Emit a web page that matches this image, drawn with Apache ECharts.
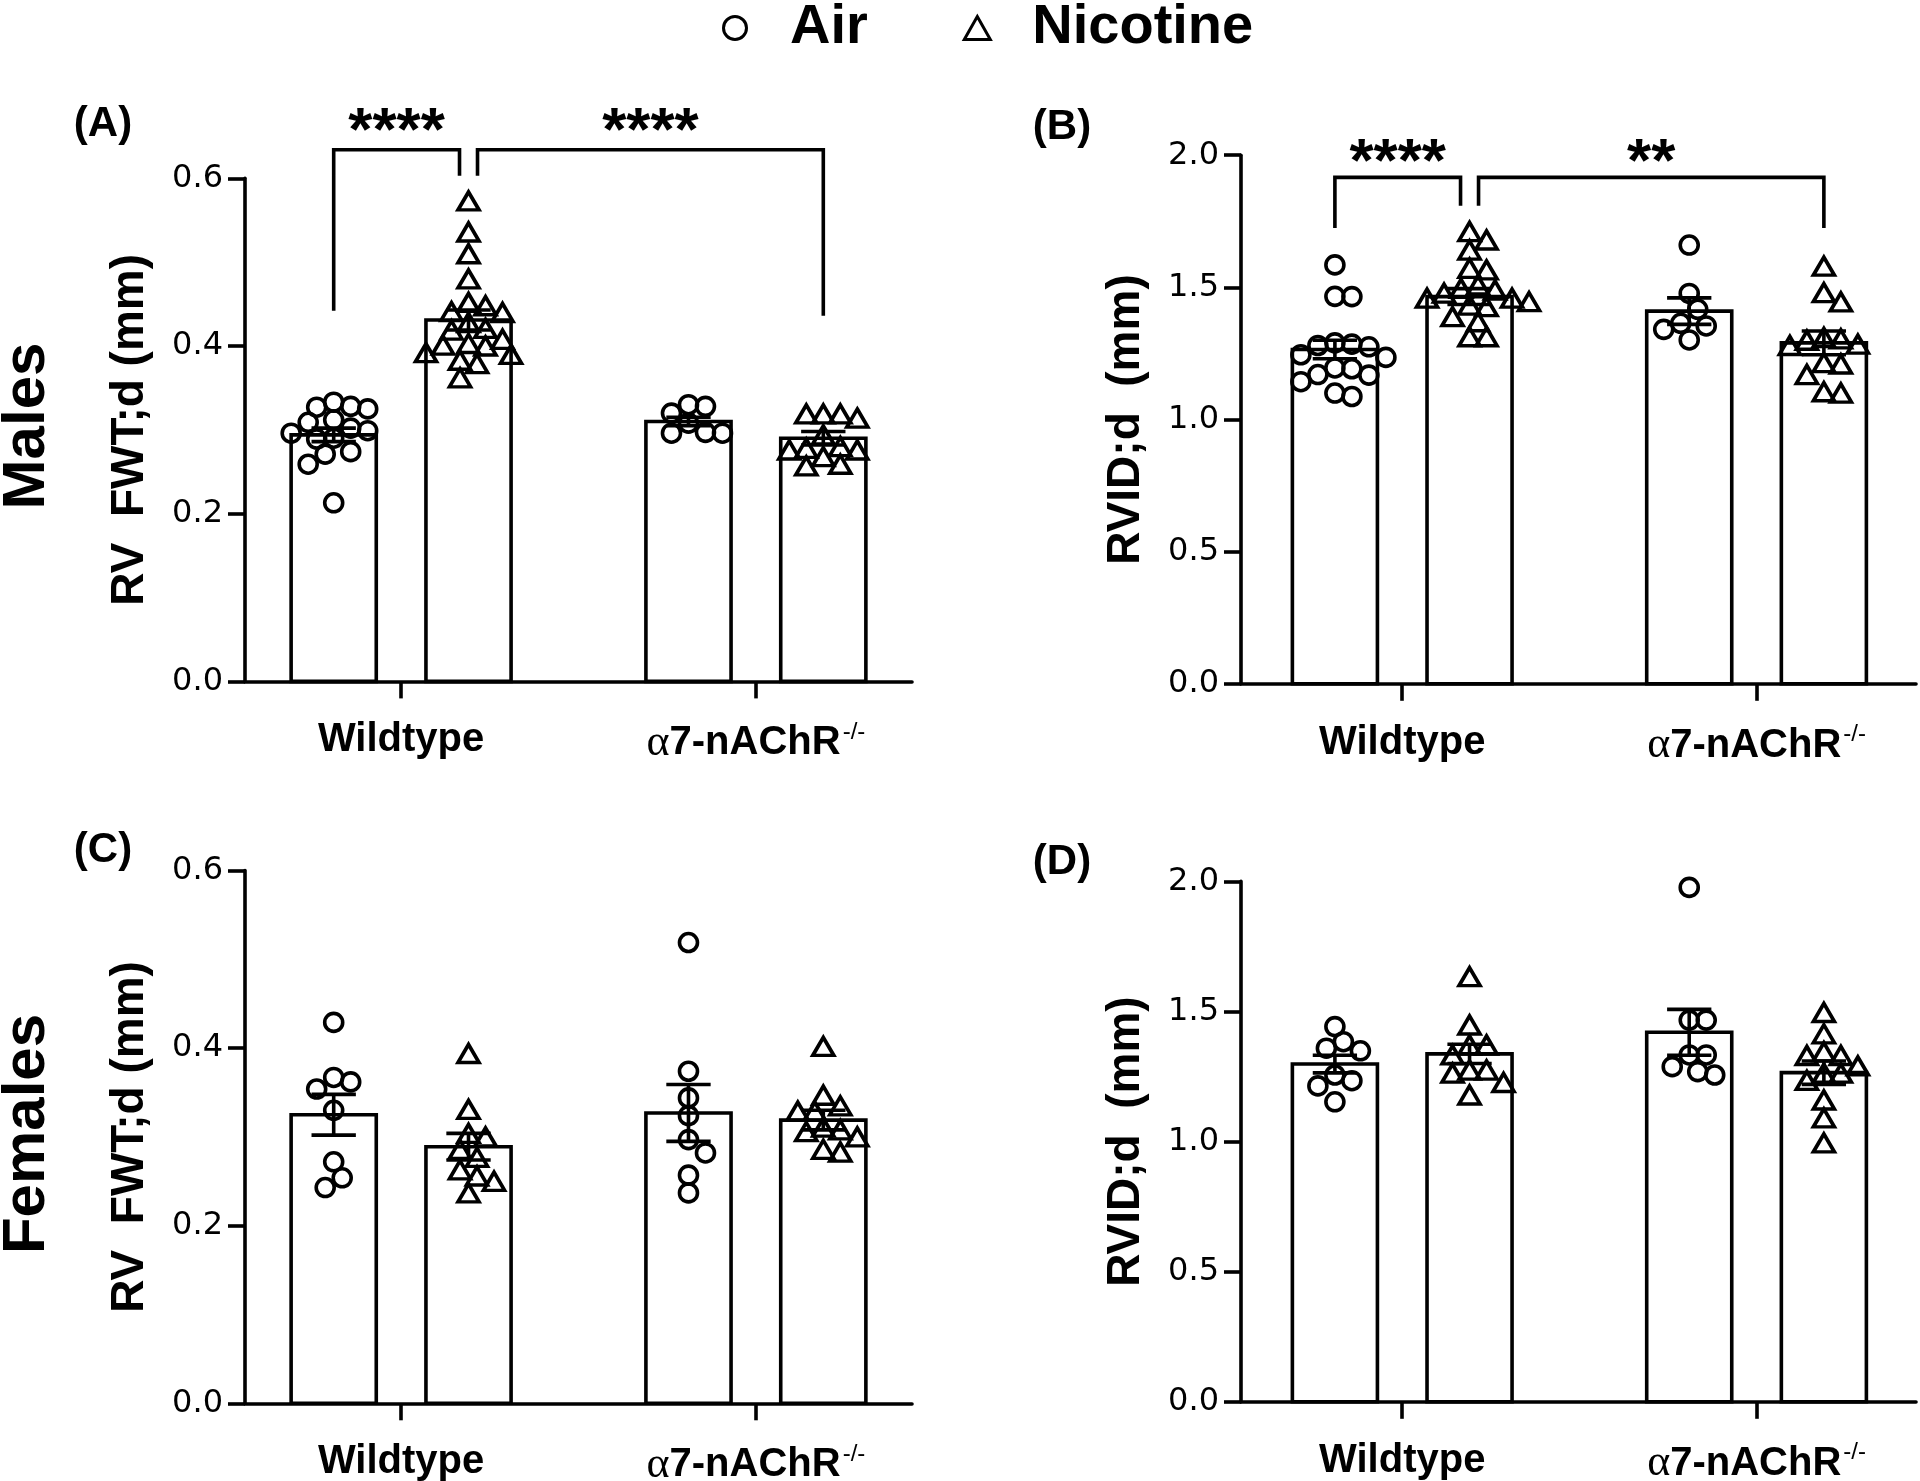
<!DOCTYPE html>
<html><head><meta charset="utf-8">
<script src="https://cdn.jsdelivr.net/npm/echarts@6/dist/echarts.min.js"></script>
<style>html,body{margin:0;padding:0;background:#fff}#c{width:1920px;height:1481px}</style>
</head><body><div id="c"></div>
<script>
// ---------------- DATA ----------------
const groups = ['Wildtype', 'α7-nAChR-/-'];
const conditions = ['Air', 'Nicotine'];

// (A) Males, RV FWT;d (mm)
const A_air_wt = [0.333, 0.328, 0.327, 0.325, 0.312, 0.309, 0.302, 0.299, 0.296, 0.290, 0.289, 0.274, 0.271, 0.259, 0.213];
const A_nic_wt = [0.573, 0.536, 0.510, 0.480, 0.452, 0.448, 0.441, 0.440, 0.428, 0.421, 0.419, 0.408, 0.403, 0.401, 0.400, 0.392, 0.390, 0.383, 0.379, 0.362];
const A_air_ko = [0.330, 0.328, 0.320, 0.308, 0.297, 0.296, 0.296];
const A_nic_ko = [0.319, 0.319, 0.319, 0.314, 0.294, 0.280, 0.278, 0.276, 0.276, 0.268, 0.259, 0.257];
const A_mean_air = [0.294, 0.310], A_mean_nic = [0.431, 0.290];
const A_sem_air = [0.008, 0.005], A_sem_nic = [0.012, 0.008];
const A_sig = ['****', '****'];
const A_bracket_y = [[0.634, 0.442, 0.603], [0.634, 0.603, 0.436]]; // top, left end, right end

// (B) Males, RVID;d (mm)
const B_air_wt = [1.585, 1.466, 1.465, 1.290, 1.285, 1.280, 1.275, 1.245, 1.235, 1.195, 1.192, 1.170, 1.168, 1.143, 1.100, 1.087];
const B_nic_wt = [1.711, 1.679, 1.641, 1.572, 1.566, 1.509, 1.496, 1.490, 1.478, 1.459, 1.459, 1.446, 1.433, 1.427, 1.389, 1.370, 1.313, 1.313];
const B_air_ko = [1.660, 1.477, 1.417, 1.364, 1.354, 1.341, 1.301];
const B_nic_ko = [1.580, 1.480, 1.445, 1.310, 1.305, 1.300, 1.285, 1.280, 1.215, 1.210, 1.170, 1.105, 1.100];
const B_mean_air = [1.265, 1.410], B_mean_nic = [1.465, 1.290];
const B_sem_air = [0.035, 0.050], B_sem_nic = [0.030, 0.045];
const B_sig = ['****', '**'];
const B_bracket_y = [[1.916, 1.7245, 1.8086], [1.916, 1.8086, 1.7245]];

// (C) Females, RV FWT;d (mm)
const C_air_wt = [0.429, 0.367, 0.362, 0.354, 0.330, 0.272, 0.254, 0.243];
const C_nic_wt = [0.394, 0.331, 0.304, 0.300, 0.286, 0.277, 0.263, 0.256, 0.250, 0.237];
const C_air_ko = [0.519, 0.374, 0.344, 0.324, 0.297, 0.282, 0.257, 0.237];
const C_nic_ko = [0.402, 0.347, 0.335, 0.329, 0.329, 0.311, 0.308, 0.306, 0.300, 0.286, 0.283];
const C_mean_air = [0.325, 0.327], C_mean_nic = [0.289, 0.319];
const C_sem_air = [0.023, 0.032], C_sem_nic = [0.015, 0.011];

// (D) Females, RVID;d (mm)
const D_air_wt = [1.442, 1.384, 1.359, 1.349, 1.256, 1.234, 1.214, 1.153];
const D_nic_wt = [1.634, 1.448, 1.371, 1.371, 1.333, 1.275, 1.275, 1.263, 1.227, 1.179];
const D_air_ko = [1.977, 1.467, 1.467, 1.333, 1.333, 1.288, 1.269, 1.256];
const D_nic_ko = [1.496, 1.414, 1.345, 1.331, 1.331, 1.291, 1.263, 1.263, 1.235, 1.160, 1.091, 0.995];
const D_mean_air = [1.298, 1.420], D_mean_nic = [1.337, 1.265];
const D_sem_air = [0.034, 0.088], D_sem_nic = [0.037, 0.045];

// brackets compare [group, condition] pairs
const bracketPairs = [[[0, 0], [0, 1]], [[0, 1], [1, 1]]];

// ---------------- LAYOUT / STYLE ----------------
const SANS = '"Liberation Sans", Arial, sans-serif';
const TICKFONT = '"DejaVu Sans", sans-serif';
const BAR_W = 0.48, CAP_W = 0.25, OFFSET = 0.38, BRACKET_GAP = 9;
const LW = 3.6;

const panels = [
  {letter: '(A)', grid: {left: 245, top: 178.3, width: 667, height: 503.1}, xmin: 0.12, xmax: 3.88, ymax: 0.6, yint: 0.2,
   name: 'RV  FWT;d (mm)', pts: [[A_air_wt, A_air_ko], [A_nic_wt, A_nic_ko]],
   mean: [A_mean_air, A_mean_nic], sem: [A_sem_air, A_sem_nic], sig: A_sig, by: A_bracket_y, starOff: 17,
   letterPos: [103, 124]},
  {letter: '(B)', grid: {left: 1241, top: 155.2, width: 675, height: 528.6}, xmin: 0.09, xmax: 3.9, ymax: 2.0, yint: 0.5,
   name: 'RVID;d  (mm)', pts: [[B_air_wt, B_air_ko], [B_nic_wt, B_nic_ko]],
   mean: [B_mean_air, B_mean_nic], sem: [B_sem_air, B_sem_nic], sig: B_sig, by: B_bracket_y, starOff: 13,
   letterPos: [1062, 127]},
  {letter: '(C)', grid: {left: 245, top: 870.6, width: 667, height: 532.7}, xmin: 0.12, xmax: 3.88, ymax: 0.6, yint: 0.2,
   name: 'RV  FWT;d (mm)', pts: [[C_air_wt, C_air_ko], [C_nic_wt, C_nic_ko]],
   mean: [C_mean_air, C_mean_nic], sem: [C_sem_air, C_sem_nic], letterPos: [103, 850]},
  {letter: '(D)', grid: {left: 1241, top: 881.4, width: 675, height: 520.4}, xmin: 0.09, xmax: 3.9, ymax: 2.0, yint: 0.5,
   name: 'RVID;d  (mm)', pts: [[D_air_wt, D_air_ko], [D_nic_wt, D_nic_ko]],
   mean: [D_mean_air, D_mean_nic], sem: [D_sem_air, D_sem_nic], letterPos: [1062, 862]}
];

function xOf(g, c) { return 1 + 2 * g + (c ? OFFSET : -OFFSET); }

function groupLabel(v) {
  const g = Math.round((v - 1) / 2);
  const s = groups[g];
  if (s === undefined) return '';
  if (s[0] === 'α') return '{al|α}{b|' + s.slice(1, s.length - 3) + '}{sup|' + s.slice(s.length - 3) + '}';
  return '{b|' + s + '}';
}

const SYM = [
  {symbol: 'circle', size: 18},
  {symbol: 'triangle', size: [21, 18]}
];

const chart = echarts.init(document.getElementById('c'), null, {renderer: 'canvas', width: 1920, height: 1481});

function buildScatter(i, c, jitter) {
  const p = panels[i];
  const data = [];
  for (let g = 0; g < 2; g++) {
    p.pts[c][g].forEach((v, k) => {
      const j = jitter ? jitter[g][k] : 0;
      data.push([xOf(g, c) + j, v]);
    });
  }
  return {
    id: 'sc' + i + '_' + c, type: 'scatter', name: conditions[c], xAxisIndex: i, yAxisIndex: i,
    symbol: SYM[c].symbol, symbolSize: SYM[c].size, z: 3, silent: true,
    itemStyle: {color: 'rgba(255,255,255,0)', borderColor: '#000', borderWidth: LW, opacity: 1},
    emphasis: {disabled: true}, data
  };
}

const grids = [], xAxes = [], yAxes = [], series = [], graphics = [];
panels.forEach((p, i) => {
  grids.push(Object.assign({containLabel: false, outerBoundsMode: 'none'}, p.grid));
  xAxes.push({
    type: 'value', gridIndex: i, min: p.xmin, max: p.xmax, splitLine: {show: false},
    axisLine: {onZero: false, lineStyle: {color: '#000', width: LW}},
    axisTick: {show: true, customValues: [1, 3], length: 17, lineStyle: {color: '#000', width: LW}},
    axisLabel: {
      customValues: [1, 3], margin: 39, formatter: groupLabel, color: '#000',
      rich: {
        al: {fontFamily: '"Liberation Serif", serif', fontSize: 44, fontWeight: 'normal', color: '#000'},
        b: {fontFamily: SANS, fontSize: 40, fontWeight: 'bold', color: '#000'},
        sup: {fontFamily: SANS, fontSize: 24, fontWeight: 'normal', color: '#000', verticalAlign: 'top', padding: [0, 0, 22, 2]}
      }
    }
  });
  yAxes.push({
    type: 'value', gridIndex: i, min: 0, max: p.ymax, interval: p.yint, splitLine: {show: false},
    axisLine: {show: true, lineStyle: {color: '#000', width: LW}},
    axisTick: {show: true, length: 17, lineStyle: {color: '#000', width: LW}},
    axisLabel: {margin: 22, color: '#000', fontSize: 32, fontFamily: TICKFONT, formatter: v => v.toFixed(1)},
    name: p.name, nameLocation: 'middle', nameGap: 92,
    nameTextStyle: {fontSize: 46, fontWeight: 'bold', fontFamily: SANS, color: '#000'}
  });
  const barData = [];
  const errData = [];
  for (let g = 0; g < 2; g++) for (let c = 0; c < 2; c++) {
    barData.push([xOf(g, c), p.mean[c][g]]);
    errData.push([xOf(g, c), p.mean[c][g], p.sem[c][g]]);
  }
  series.push({
    id: 'bar' + i, type: 'custom', xAxisIndex: i, yAxisIndex: i, z: 1, silent: true, clip: false,
    encode: {x: 0, y: 1}, data: barData,
    renderItem(params, api) {
      const x = api.value(0), v = api.value(1);
      const a = api.coord([x - BAR_W / 2, v]);
      const b = api.coord([x + BAR_W / 2, 0]);
      return {type: 'rect', shape: {x: a[0], y: a[1], width: b[0] - a[0], height: b[1] - a[1]},
        style: {fill: '#fff', stroke: '#000', lineWidth: LW}};
    }
  });
  series.push(buildScatter(i, 0, null));
  series.push(buildScatter(i, 1, null));
  series.push({
    id: 'err' + i, type: 'custom', xAxisIndex: i, yAxisIndex: i, z: 4, silent: true, clip: false,
    encode: {x: 0, y: 1}, data: errData,
    renderItem(params, api) {
      const x = api.value(0), m = api.value(1), s = api.value(2);
      const top = api.coord([x, m + s]), bot = api.coord([x, m - s]);
      const l = api.coord([x - CAP_W / 2, m])[0], r = api.coord([x + CAP_W / 2, m])[0];
      const st = {stroke: '#000', lineWidth: LW, fill: null};
      return {type: 'group', children: [
        {type: 'line', shape: {x1: top[0], y1: top[1], x2: bot[0], y2: bot[1]}, style: st},
        {type: 'line', shape: {x1: l, y1: top[1], x2: r, y2: top[1]}, style: st},
        {type: 'line', shape: {x1: l, y1: bot[1], x2: r, y2: bot[1]}, style: st}
      ]};
    }
  });
  if (p.sig) {
    const bData = bracketPairs.map((pr, k) => [xOf(pr[0][0], pr[0][1]), xOf(pr[1][0], pr[1][1]), p.by[k][0], p.by[k][1], p.by[k][2]]);
    series.push({
      id: 'br' + i, type: 'custom', xAxisIndex: i, yAxisIndex: i, z: 5, silent: true, clip: false,
      encode: {x: [0, 1], y: [2, 3, 4]}, data: bData,
      renderItem(params, api) {
        const k = params.dataIndex;
        const xL = api.value(0), xR = api.value(1), yT = api.value(2), yL = api.value(3), yR = api.value(4);
        const sL = k === 1 ? BRACKET_GAP : 0, sR = k === 0 ? -BRACKET_GAP : 0;
        const pL = api.coord([xL, yL]), pR = api.coord([xR, yR]), pT = api.coord([xL, yT]);
        const lx = pL[0] + sL, rx = pR[0] + sR;
        return {type: 'group', children: [
          {type: 'polyline', shape: {points: [[lx, pL[1]], [lx, pT[1]], [rx, pT[1]], [rx, pR[1]]]},
            style: {stroke: '#000', lineWidth: LW, fill: null}},
          {type: 'text', x: (lx + rx) / 2, y: pT[1] - p.starOff,
            style: {text: p.sig[k], fontSize: 62, fontWeight: 'bold', fontFamily: SANS, fill: '#000',
              align: 'center', verticalAlign: 'middle'}}
        ]};
      }
    });
  }
  graphics.push({type: 'text', x: p.letterPos[0], y: p.letterPos[1], silent: true,
    style: {text: p.letter, fontSize: 42, fontWeight: 'bold', fontFamily: SANS, fill: '#000', align: 'center', verticalAlign: 'middle'}});
});

graphics.push({type: 'text', x: 27, y: 426, rotation: Math.PI / 2, silent: true,
  style: {text: 'Males', fontSize: 60, fontWeight: 'bold', fontFamily: SANS, fill: '#000', align: 'center', verticalAlign: 'middle'}});
graphics.push({type: 'text', x: 27, y: 1134, rotation: Math.PI / 2, silent: true,
  style: {text: 'Females', fontSize: 60, fontWeight: 'bold', fontFamily: SANS, fill: '#000', align: 'center', verticalAlign: 'middle'}});

const option = {
  animation: false,
  backgroundColor: '#fff',
  textStyle: {fontFamily: SANS, color: '#000'},
  legend: {
    data: conditions, left: 722, top: 0, padding: 0, itemWidth: 26, itemHeight: 23, itemGap: 95,
    selectedMode: false,
    itemStyle: {borderWidth: 3},
    textStyle: {fontSize: 56, fontWeight: 'bold', fontFamily: SANS, color: '#000', padding: [0, 0, 0, 37]}
  },
  grid: grids, xAxis: xAxes, yAxis: yAxes, series, graphic: graphics
};
chart.setOption(option);

// ---- beeswarm jitter computed in pixel space through the chart's own scales ----
function swarm(values, xs, ys, minDist, step) {
  const order = values.map((v, i) => i).sort((a, b) => values[b] - values[a]);
  const placed = [];
  const offs = new Array(values.length).fill(0);
  for (const i of order) {
    const py = values[i] * ys;
    let best = 0;
    for (let n = 0; n < 60; n++) {
      const cand = n === 0 ? 0 : (n % 2 ? 1 : -1) * Math.ceil(n / 2) * step;
      if (placed.every(q => Math.hypot(q.px - cand, q.py - py) >= minDist)) { best = cand; break; }
    }
    placed.push({px: best, py});
    offs[i] = best / xs;
  }
  return offs;
}
const upd = [];
panels.forEach((p, i) => {
  const p0 = chart.convertToPixel({gridIndex: i}, [0, 0]);
  const p1 = chart.convertToPixel({gridIndex: i}, [1, 1]);
  const xs = p1[0] - p0[0], ys = p0[1] - p1[1];
  for (let c = 0; c < 2; c++) {
    const jit = [0, 1].map(g => swarm(p.pts[c][g], xs, ys, 17, 8.5));
    upd.push(buildScatter(i, c, jit));
  }
});
chart.setOption({series: upd});
</script>
</body></html>
